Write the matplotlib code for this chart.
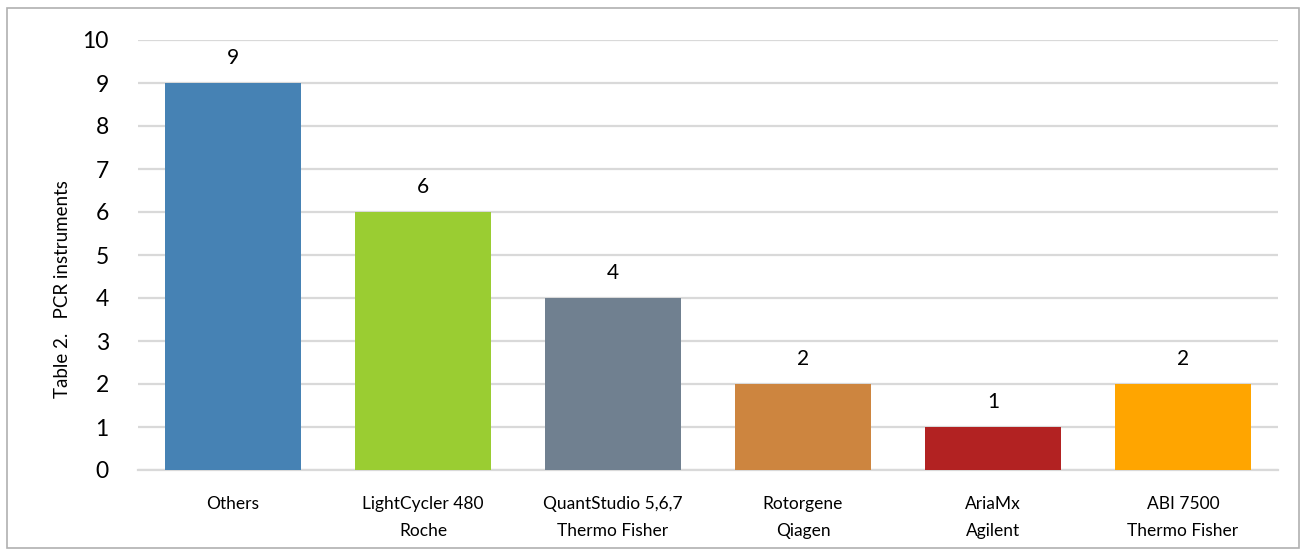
import matplotlib
matplotlib.use("Agg")
import matplotlib.pyplot as plt
from matplotlib.patches import Rectangle

plt.rcParams["font.family"] = ["Lato", "DejaVu Sans"]

categories = ["Others", "LightCycler 480\nRoche", "QuantStudio 5,6,7\nThermo Fisher",
              "Rotorgene\nQiagen", "AriaMx\nAgilent", "ABI 7500\nThermo Fisher"]
counts = [9, 6, 4, 2, 1, 2]
colors = ["#4682B4", "#9ACD32", "#708090", "#CD853F", "#B22222", "#FFA500"]

W, H = 1307, 556
fig = plt.figure(figsize=(W / 100, H / 100), dpi=100)
ax = fig.add_axes([138 / W, 1 - 470 / H, (1278 - 138) / W, (470 - 40) / H])

x = list(range(len(categories)))
bars = ax.bar(x, counts, width=0.716, color=colors, zorder=3)
for bar, val in zip(bars, counts):
    ax.annotate(str(val), (bar.get_x() + bar.get_width() / 2, bar.get_height()),
                xytext=(0, 11), textcoords="offset points",
                ha="center", va="bottom", fontsize=15)

ax.set_xlim(-0.5, len(categories) - 0.5)
ax.set_ylim(0, 10)
ax.set_yticks(range(0, 11))
ax.set_xticks(x)
ax.set_xticklabels(categories, fontsize=12.5, linespacing=1.85)
ax.tick_params(axis="y", length=0, pad=21, labelsize=16.5)
ax.tick_params(axis="x", length=0, pad=19)
ax.grid(axis="y", color="#d9d9d9", linewidth=1.6, zorder=0)
for side in ["top", "right", "left"]:
    ax.spines[side].set_visible(False)
ax.spines["bottom"].set_color("#d9d9d9")
ax.spines["bottom"].set_linewidth(1.6)

# excel puts the axis title a bit below the middle
ax.set_ylabel("Table 2.   PCR instruments", fontsize=13.5)
ax.yaxis.set_label_coords(-0.059, 0.421)

fig.patches.append(Rectangle((7 / W, 8 / H), (1299 - 7) / W, (548 - 8) / H,
                             transform=fig.transFigure, fill=False,
                             edgecolor="#b0b0b0", linewidth=1.2))

fig.savefig("out.png", dpi=100)
